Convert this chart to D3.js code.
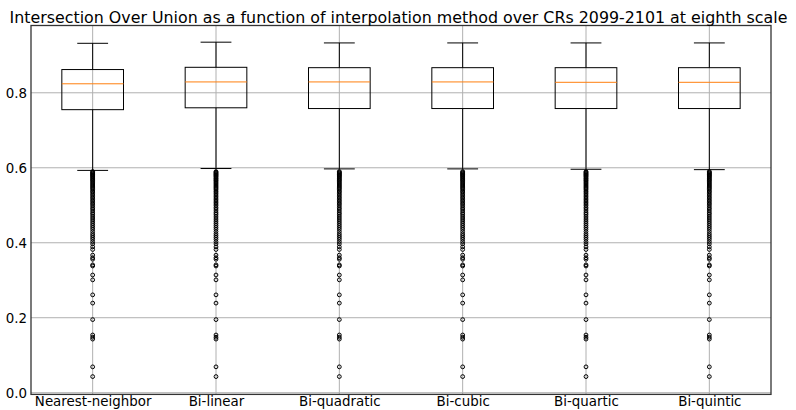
<!DOCTYPE html>
<html>
<head>
<meta charset="utf-8">
<script src="https://cdn.jsdelivr.net/npm/d3@7"></script>
<style>
  html, body { margin: 0; padding: 0; background: #fff; }
  svg { display: block; font-family: "DejaVu Sans", sans-serif; }
</style>
</head>
<body>
<svg id="chart" width="796" height="410"></svg>
<script>
// Interpolation methods compared
const methods = ["Nearest-neighbor", "Bi-linear", "Bi-quadratic", "Bi-cubic", "Bi-quartic", "Bi-quintic"];

// Box statistics per method (IoU)
const whiskerLow  = [0.593, 0.598, 0.597, 0.597, 0.596, 0.595];
const q1          = [0.755, 0.760, 0.758, 0.758, 0.758, 0.758];
const medians     = [0.824, 0.829, 0.829, 0.829, 0.828, 0.828];
const q3          = [0.862, 0.868, 0.867, 0.867, 0.867, 0.867];
const whiskerHigh = [0.932, 0.935, 0.933, 0.933, 0.933, 0.933];

// Low-IoU outliers (nearly identical across methods)
const fliers = [
  0.590, 0.588, 0.586, 0.584, 0.582, 0.580, 0.578, 0.576, 0.573, 0.571,
  0.568, 0.566, 0.563, 0.560, 0.557, 0.554, 0.551, 0.548, 0.545, 0.542,
  0.538, 0.535, 0.531, 0.527, 0.523, 0.519, 0.515, 0.511, 0.507, 0.503,
  0.499, 0.494, 0.490, 0.485, 0.480, 0.476, 0.471, 0.466, 0.461, 0.456,
  0.451, 0.446, 0.441, 0.436, 0.430, 0.424, 0.419, 0.414, 0.409, 0.403,
  0.397, 0.389, 0.382, 0.367, 0.360, 0.356, 0.341, 0.338, 0.314, 0.301,
  0.261, 0.239, 0.195, 0.154, 0.148, 0.143, 0.069, 0.043
];

const yTicks = [0.0, 0.2, 0.4, 0.6, 0.8];
const title = "Intersection Over Union as a function of interpolation method over CRs 2099-2101 at eighth scale";

const svg = d3.select("#chart");
const plot = { left: 31, right: 771, top: 25.5, bottom: 394.4 };

const x = d3.scaleLinear().domain([0.5, methods.length + 0.5]).range([plot.left, plot.right]);
const y = d3.scaleLinear().domain([-0.0045, 0.9795]).range([plot.bottom, plot.top]);
const step = x(2) - x(1);
const boxW = step * 0.5;
const capW = boxW * 0.5;

// grid
const grid = svg.append("g").attr("stroke", "#b0b0b0").attr("stroke-width", 1);
yTicks.forEach(t => {
  grid.append("line").attr("x1", plot.left).attr("x2", plot.right)
    .attr("y1", y(t)).attr("y2", y(t));
});
methods.forEach((m, i) => {
  grid.append("line").attr("y1", plot.top).attr("y2", plot.bottom)
    .attr("x1", x(i + 1)).attr("x2", x(i + 1));
});

// axes
const yAxis = d3.axisLeft(y).tickValues(yTicks).tickFormat(d3.format(".1f")).tickSize(0).tickPadding(4);
const xAxis = d3.axisBottom(x).tickValues(methods.map((m, i) => i + 1))
  .tickFormat((d) => methods[d - 1]).tickSize(0).tickPadding(2);

const gy = svg.append("g").attr("transform", `translate(${plot.left},0)`).call(yAxis);
const gx = svg.append("g").attr("transform", `translate(0,${plot.bottom})`).call(xAxis);
[gy, gx].forEach(g => {
  g.select(".domain").remove();
  g.selectAll("text").attr("font-size", 13.4).attr("fill", "#000").attr("font-family", "DejaVu Sans, sans-serif");
});

// boxes
const boxes = svg.append("g").attr("fill", "none");
methods.forEach((m, i) => {
  const cx = x(i + 1);
  const g = boxes.append("g");
  g.append("rect")
    .attr("x", cx - boxW / 2).attr("width", boxW)
    .attr("y", y(q3[i])).attr("height", y(q1[i]) - y(q3[i]))
    .attr("stroke", "#000").attr("stroke-width", 1);
  g.append("line").attr("x1", cx).attr("x2", cx).attr("y1", y(q3[i])).attr("y2", y(whiskerHigh[i]))
    .attr("stroke", "#000");
  g.append("line").attr("x1", cx).attr("x2", cx).attr("y1", y(q1[i])).attr("y2", y(whiskerLow[i]))
    .attr("stroke", "#000");
  g.append("line").attr("x1", cx - capW / 2).attr("x2", cx + capW / 2)
    .attr("y1", y(whiskerHigh[i])).attr("y2", y(whiskerHigh[i])).attr("stroke", "#000");
  g.append("line").attr("x1", cx - capW / 2).attr("x2", cx + capW / 2)
    .attr("y1", y(whiskerLow[i])).attr("y2", y(whiskerLow[i])).attr("stroke", "#000");
  g.append("line").attr("x1", cx - boxW / 2).attr("x2", cx + boxW / 2)
    .attr("y1", y(medians[i])).attr("y2", y(medians[i])).attr("stroke", "#ff7f0e");
  g.selectAll("circle").data(fliers).join("circle")
    .attr("cx", cx).attr("cy", d => y(d)).attr("r", 1.9)
    .attr("stroke", "#000").attr("stroke-width", 1).attr("fill", "none");
});

// frame
svg.append("rect")
  .attr("x", plot.left).attr("y", plot.top)
  .attr("width", plot.right - plot.left).attr("height", plot.bottom - plot.top)
  .attr("fill", "none").attr("stroke", "#333").attr("stroke-width", 1.3);

// title
svg.append("text")
  .attr("x", (plot.left + plot.right) / 2 - 2.5).attr("y", 22.5)
  .attr("text-anchor", "middle").attr("font-size", 15.85).attr("fill", "#000")
  .text(title);
</script>
</body>
</html>
